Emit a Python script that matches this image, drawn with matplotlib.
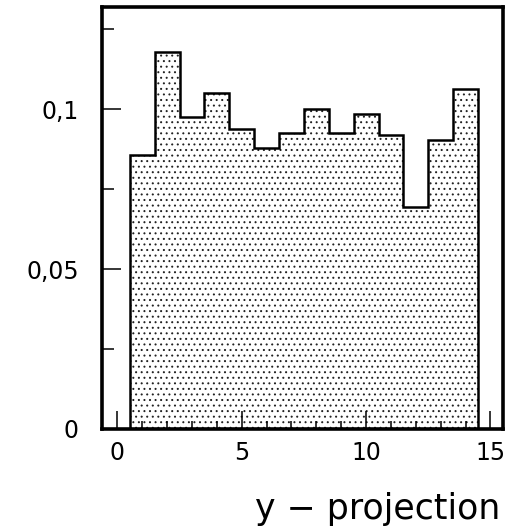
import numpy as np
import matplotlib
matplotlib.use("Agg")
import matplotlib.pyplot as plt
from matplotlib.ticker import MultipleLocator, FuncFormatter

# bin edges and normalised contents of the y projection
edges = np.arange(0.5, 15.0, 1.0)
values = [0.0856, 0.118, 0.0974, 0.1049, 0.0938, 0.088, 0.0925,
          0.100, 0.0925, 0.0985, 0.0918, 0.0695, 0.0905, 0.1062]
xticks = [0, 5, 10, 15]
yticks = [0, 0.05, 0.1]
xlabel = "y \u2212 projection"

plt.rcParams["font.family"] = ["DejaVu Sans"]
plt.rcParams["hatch.linewidth"] = 0.7

fig = plt.figure(figsize=(5.24, 5.28), dpi=100)
ax = fig.add_axes([0.1956, 0.1875, 0.764, 0.799])

centers = (edges[:-1] + edges[1:]) / 2
ax.bar(centers, values, width=1.0, color="white", edgecolor="#222222",
       hatch="...", linewidth=0)
ax.stairs(values, edges, color="black", linewidth=1.8)

ax.set_xlim(-0.6, 15.5)
ax.set_ylim(0, 0.1319)
ax.set_xticks(xticks)
ax.set_yticks(yticks)
ax.xaxis.set_minor_locator(MultipleLocator(1))
ax.yaxis.set_minor_locator(MultipleLocator(0.025))
ax.yaxis.set_major_formatter(FuncFormatter(lambda v, p: "0" if v == 0 else f"{v:g}".replace(".", ",")))

ax.tick_params(which="both", direction="in", width=1.1, top=False, right=False)
ax.tick_params(axis="x", which="major", length=13, labelsize=17, pad=9)
ax.tick_params(axis="x", which="minor", length=6)
ax.tick_params(axis="y", which="major", length=14, labelsize=17, pad=17)
ax.tick_params(axis="y", which="minor", length=8.5)
for s in ax.spines.values():
    s.set_linewidth(2.6)

fig.text(500 / 524, 0.017, xlabel, ha="right", va="baseline", fontsize=25)

fig.savefig("out.png", dpi=100)
